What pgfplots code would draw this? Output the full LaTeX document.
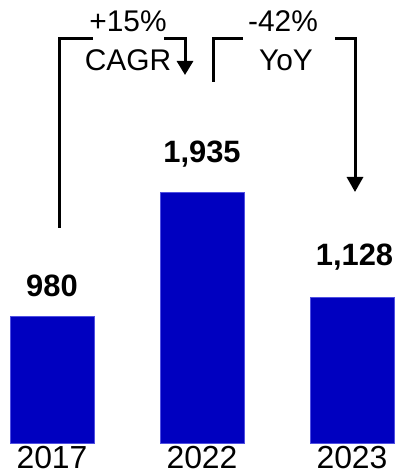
\documentclass[border=0pt]{standalone}
\usepackage{pgfplots}
\pgfplotsset{compat=1.18}
\usepackage{fontspec}
\setmainfont{Liberation Sans}
\usetikzlibrary{arrows.meta}
\definecolor{barblue}{RGB}{0,0,192}
\definecolor{baredge}{RGB}{80,80,225}
\begin{document}
\begin{tikzpicture}
\useasboundingbox (0,-32bp) rectangle (400bp,443bp);
\begin{axis}[
  at={(0,0)}, anchor=south west,
  scale only axis, width=400bp, height=443bp,
  xmin=-0.34667, xmax=2.32, ymin=0, ymax=3426,
  axis line style={draw=none},
  ybar, bar width=84bp, clip=false,
  xtick={0,1,2}, xticklabels={2017,2022,2023},
  ytick=\empty, major tick length=0pt,
  xticklabel style={font=\fontsize{32}{32}\selectfont, inner sep=0pt, anchor=north, yshift=-3bp},
]
\addplot[fill=barblue, draw=baredge, line width=0.6pt] coordinates {(0,980) (1,1935) (2,1128)};
\node[anchor=base, font=\bfseries\fontsize{31}{31}\selectfont, inner sep=0pt, yshift=19.5bp] at (axis cs:0,980) {980};
\node[anchor=base, font=\bfseries\fontsize{31}{31}\selectfont, inner sep=0pt, yshift=30bp] at (axis cs:1,1935) {1,935};
\node[anchor=base, font=\bfseries\fontsize{31}{31}\selectfont, inner sep=0pt, yshift=32bp, xshift=2.5bp] at (axis cs:2,1128) {1,128};
\end{axis}
\begin{scope}[x=1bp, y=1bp, line width=3bp]
  % growth bracket 2017 -> 2022
  \draw (59,215) -- (59,404) -- (93,404);
  \draw[-{Triangle[width=16bp,length=14bp]}] (164,404) -- (185,404) -- (185,368);
  % change bracket 2022 -> 2023
  \draw (213,361) -- (213,404) -- (243,404);
  \draw[-{Triangle[width=16bp,length=15bp]}] (335,404) -- (355,404) -- (355,251);
  \begin{scope}[every node/.style={anchor=base, inner sep=0pt, font=\fontsize{30}{30}\selectfont}]
    \node at (128,411) {+15\%};
    \node at (128,373) {CAGR};
    \node at (283,411) {-42\%};
    \node at (286,373) {YoY};
  \end{scope}
\end{scope}
\end{tikzpicture}
\end{document}
